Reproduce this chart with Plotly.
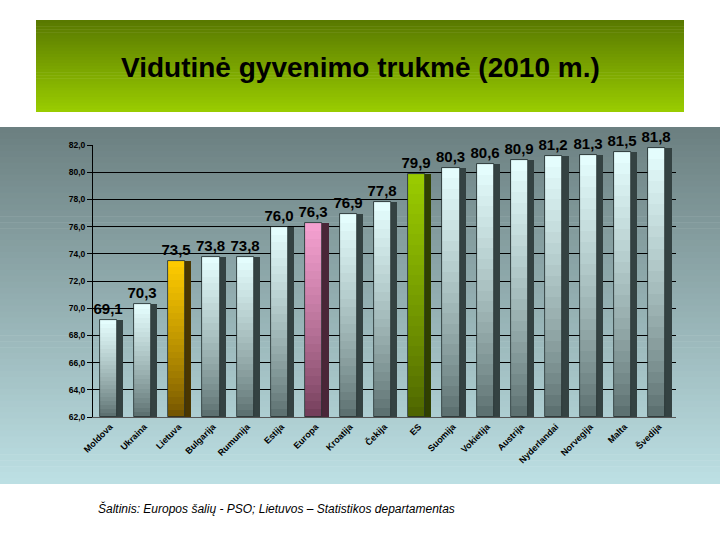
import plotly.graph_objects as go

# ---- data ----
countries = ["Moldova", "Ukraina", "Lietuva", "Bulgarija", "Rumunija", "Estija", "Europa",
             "Kroatija", "Čekija", "ES", "Suomija", "Vokietija", "Austrija", "Nyderlandai",
             "Norvegija", "Malta", "Švedija"]
life_exp = [69.1, 70.3, 73.5, 73.8, 73.8, 76.0, 76.3, 76.9, 77.8, 79.9, 80.3, 80.6, 80.9,
            81.2, 81.3, 81.5, 81.8]
highlight = {"Lietuva": "gold", "Europa": "pink", "ES": "green"}
title_text = "Vidutinė gyvenimo trukmė (2010 m.)"
source_text = "Šaltinis: Europos šalių - PSO; Lietuvos – Statistikos departamentas"
y_min, y_max = 62, 82

# ---- styles ----
W, H = 720, 540
L, R, T, B = 93, 44, 145, 123
PW, PH = W - L - R, H - T - B

def px(x):
    return (x - L) / PW

def py(y):
    return (H - B - y) / PH

def hex2rgb(h):
    h = h.lstrip("#")
    return tuple(int(h[i:i + 2], 16) for i in (0, 2, 4))

def mix(c1, c2, t):
    a, b = hex2rgb(c1), hex2rgb(c2)
    return "rgb(%d,%d,%d)" % tuple(round(a[i] + (b[i] - a[i]) * t) for i in range(3))

palette = {
    "default": ("#566a6a", "#e6ffff", "#344242"),
    "gold": ("#6e5000", "#ffcc00", "#4a3600"),
    "pink": ("#6e3a55", "#f7a2d2", "#4a2638"),
    "green": ("#4a6000", "#9acc00", "#304000"),
}
kinds = [highlight.get(c, "default") for c in countries]

shapes = []
# panel background gradient
n_bands = 60
top_px, bot_px = 127, 484
for i in range(n_bands):
    y0 = top_px + (bot_px - top_px) * i / n_bands
    y1 = top_px + (bot_px - top_px) * (i + 1) / n_bands + 0.6
    shapes.append(dict(type="rect", xref="paper", yref="paper", layer="below",
                       x0=px(0), x1=px(W), y0=py(min(y1, bot_px)), y1=py(y0), line=dict(width=0),
                       fillcolor=mix("#6b7f80", "#bde0e4", (i + 0.5) / n_bands)))
# title box gradient
tb_top, tb_bot = 20, 112
n_t = 30
for i in range(n_t):
    y0 = tb_top + (tb_bot - tb_top) * i / n_t
    y1 = tb_top + (tb_bot - tb_top) * (i + 1) / n_t + 0.6
    shapes.append(dict(type="rect", xref="paper", yref="paper", layer="below",
                       x0=px(36), x1=px(684), y0=py(min(y1, tb_bot)), y1=py(y0), line=dict(width=0),
                       fillcolor=mix("#587800", "#9acd00", (i + 0.5) / n_t)))

fig = go.Figure()

heights = [v - y_min for v in life_exp]

# side faces (3D look)
fig.add_trace(go.Bar(x=countries, y=heights, base=[y_min] * len(countries),
                     width=0.18, offset=0.19,
                     marker=dict(color=[palette[k][2] for k in kinds], line=dict(width=0)),
                     hoverinfo="skip", showlegend=False))

# front faces as gradient segments
N = 24
for k in range(N):
    t = (k + 0.5) / N
    fig.add_trace(go.Bar(
        x=countries,
        y=[h / N for h in heights],
        base=[y_min + h * k / N for h in heights],
        width=0.5, offset=-0.31,
        marker=dict(color=[mix(palette[kk][0], palette[kk][1], t ** 0.8) for kk in kinds],
                    line=dict(width=0)),
        hoverinfo="skip", showlegend=False))

# outline + labels
fig.add_trace(go.Bar(
    x=countries, y=heights, base=[y_min] * len(countries),
    width=0.5, offset=-0.31,
    marker=dict(color="rgba(0,0,0,0)", line=dict(color="#1e2a2a", width=0.8)),
    text=[("%.1f" % v).replace(".", ",") for v in life_exp],
    textposition="outside", cliponaxis=False, constraintext="none",
    textfont=dict(family="Arial", size=15, color="black", weight="bold"),
    hoverinfo="skip", showlegend=False))

annotations = [
    dict(text=title_text, xref="paper", yref="paper", x=px(360), y=py(68),
         xanchor="center", yanchor="middle", showarrow=False,
         font=dict(family="Arial", size=28, color="black", weight="bold")),
    dict(text=source_text, xref="paper", yref="paper", x=px(96), y=py(508),
         xanchor="left", yanchor="middle", showarrow=False,
         font=dict(family="Arial", size=12, color="black", style="italic")),
]

fig.update_layout(
    width=W, height=H,
    margin=dict(l=L, r=R, t=T, b=B),
    paper_bgcolor="white", plot_bgcolor="rgba(0,0,0,0)",
    barmode="overlay", bargap=0,
    separators=",.",
    shapes=shapes, annotations=annotations,
    xaxis=dict(tickangle=-45, tickfont=dict(family="Arial", size=9, color="black", weight="bold"),
               showgrid=False, showline=True, linecolor="#555555", ticks="",
               range=[-0.5, len(countries) - 0.5]),
    yaxis=dict(range=[y_min, y_max], dtick=2, tickformat=".1f",
               tickfont=dict(family="Arial", size=8.5, color="black", weight="bold"),
               showgrid=True, gridcolor="black", gridwidth=1,
               showline=True, linecolor="black", ticks="outside", ticklen=5,
               tickcolor="black", zeroline=False),
)

fig.write_html("out.html")
